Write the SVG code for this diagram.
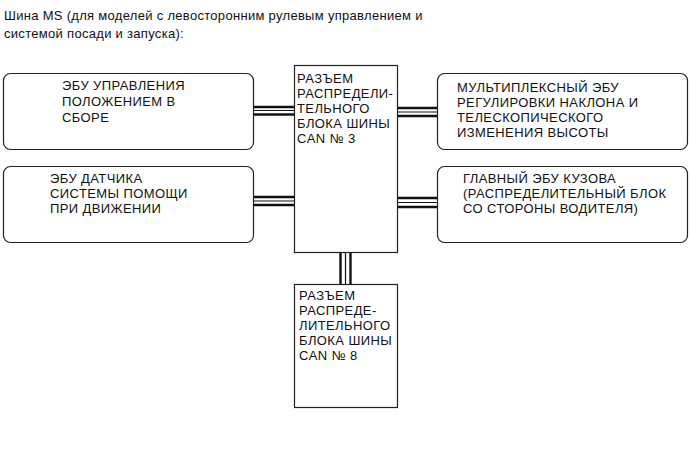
<svg xmlns="http://www.w3.org/2000/svg" width="690" height="464" viewBox="0 0 690 464">
<style>
text{font-family:"Liberation Sans",Arial,sans-serif;font-size:13px;letter-spacing:0.4px;fill:#111}
#title text{letter-spacing:0.3px}
.box{fill:#fff;stroke:#222;stroke-width:1.2}
.w{stroke:#111;stroke-width:2.4;fill:none}
.t{stroke:#111;stroke-width:1.2;fill:none}
</style>
<rect width="690" height="464" fill="#fff"/>
<g id="title">
<text x="4" y="20">Шина MS (для моделей с левосторонним рулевым управлением и</text>
<text x="4" y="38">системой посади и запуска):</text>
</g>
<g id="connectors">
<line class="w" x1="253" y1="107" x2="294" y2="107"/><line class="t" x1="253" y1="110.5" x2="294" y2="110.5"/><line class="w" x1="253" y1="114.5" x2="294" y2="114.5"/>
<line class="w" x1="253" y1="197" x2="294" y2="197"/><line class="t" x1="253" y1="201" x2="294" y2="201"/><line class="w" x1="253" y1="205" x2="294" y2="205"/>
<line class="w" x1="397" y1="108" x2="437" y2="108"/><line class="t" x1="397" y1="112" x2="437" y2="112"/><line class="w" x1="397" y1="116" x2="437" y2="116"/>
<line class="w" x1="397" y1="198" x2="437" y2="198"/><line class="t" x1="397" y1="202.5" x2="437" y2="202.5"/><line class="w" x1="397" y1="207" x2="437" y2="207"/>
<line class="w" x1="340.5" y1="252" x2="340.5" y2="284"/><line class="t" x1="345.5" y1="252" x2="345.5" y2="284"/><line class="w" x1="350.5" y1="252" x2="350.5" y2="284"/>
</g>
<g id="ecu-position">
<rect class="box" x="3.5" y="73.5" width="250" height="76" rx="7"/>
<text x="62" y="90">ЭБУ УПРАВЛЕНИЯ</text>
<text x="62" y="106">ПОЛОЖЕНИЕМ В</text>
<text x="62" y="122">СБОРЕ</text>
</g>
<g id="ecu-assist">
<rect class="box" x="3.5" y="166.5" width="250" height="76" rx="7"/>
<text x="50" y="183">ЭБУ ДАТЧИКА</text>
<text x="50" y="198">СИСТЕМЫ ПОМОЩИ</text>
<text x="50" y="213">ПРИ ДВИЖЕНИИ</text>
</g>
<g id="can3">
<rect class="box" x="294.5" y="65.5" width="103" height="187"/>
<text x="297" y="83">РАЗЪЕМ</text>
<text x="297" y="98">РАСПРЕДЕЛИ-</text>
<text x="297" y="113">ТЕЛЬНОГО</text>
<text x="297" y="128">БЛОКА ШИНЫ</text>
<text x="297" y="143">CAN № 3</text>
</g>
<g id="ecu-tilt">
<rect class="box" x="437.5" y="73.5" width="250" height="76" rx="7"/>
<text x="457" y="92">МУЛЬТИПЛЕКСНЫЙ ЭБУ</text>
<text x="457" y="107">РЕГУЛИРОВКИ НАКЛОНА И</text>
<text x="457" y="122">ТЕЛЕСКОПИЧЕСКОГО</text>
<text x="457" y="137">ИЗМЕНЕНИЯ ВЫСОТЫ</text>
</g>
<g id="ecu-body">
<rect class="box" x="437.5" y="166.5" width="250" height="76" rx="7"/>
<text x="463" y="183">ГЛАВНЫЙ ЭБУ КУЗОВА</text>
<text x="463" y="198">(РАСПРЕДЕЛИТЕЛЬНЫЙ БЛОК</text>
<text x="463" y="213">СО СТОРОНЫ ВОДИТЕЛЯ)</text>
</g>
<g id="can8">
<rect class="box" x="294.5" y="284.5" width="103" height="123"/>
<text x="299" y="300">РАЗЪЕМ</text>
<text x="299" y="315">РАСПРЕДЕ-</text>
<text x="299" y="330">ЛИТЕЛЬНОГО</text>
<text x="299" y="345">БЛОКА ШИНЫ</text>
<text x="299" y="360">CAN № 8</text>
</g>
</svg>
